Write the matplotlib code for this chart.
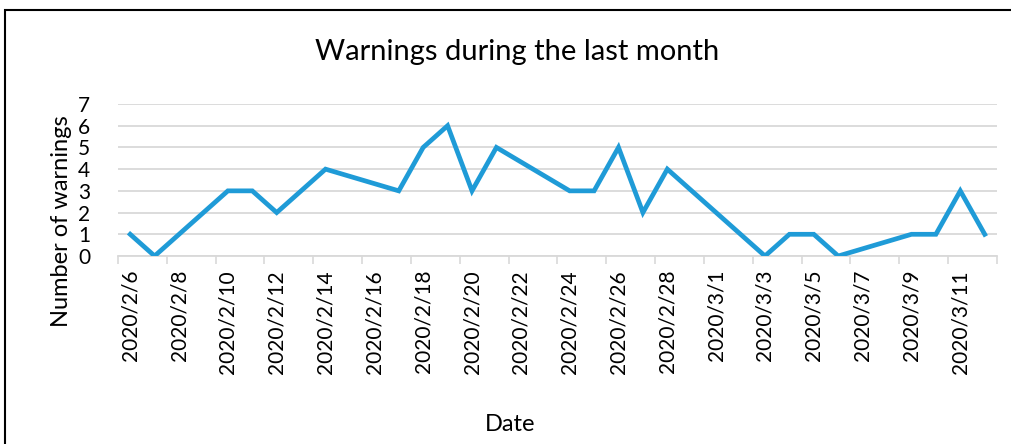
import matplotlib
matplotlib.use("Agg")
import matplotlib.dates as mdates
import matplotlib.pyplot as plt
from matplotlib.patches import Rectangle
import pandas as pd

DATES = [
    "2020-02-06", "2020-02-07", "2020-02-10", "2020-02-11", "2020-02-12",
    "2020-02-14", "2020-02-17", "2020-02-18", "2020-02-19", "2020-02-20",
    "2020-02-21", "2020-02-24", "2020-02-25", "2020-02-26", "2020-02-27",
    "2020-02-28", "2020-03-03", "2020-03-04", "2020-03-05", "2020-03-06",
    "2020-03-09", "2020-03-10", "2020-03-11", "2020-03-12",
]
WARNINGS = [1, 0, 3, 3, 2, 4, 3, 5, 6, 3, 5, 3, 3, 5, 2, 4, 0, 1, 1, 0, 1, 1, 3, 1]

TITLE = "Warnings during the last month"
X_LABEL = "Date"
Y_LABEL = "Number of warnings"
Y_TICKS = [0, 1, 2, 3, 4, 5, 6, 7]

COLORS = {
    "line": "#1F9BD7",
    "grid": "#D9D9D9",
    "text": "#000000",
    "border": "#000000",
}

plt.rcParams["font.family"] = ["Lato", "DejaVu Sans"]

fig = plt.figure(figsize=(10.12, 4.44), dpi=100)
ax = fig.add_axes([0.1166, 0.4234, 0.8685, 0.3424])

dates = pd.to_datetime(DATES) + pd.Timedelta(hours=12)
ax.plot(dates, WARNINGS, color=COLORS["line"], linewidth=3.4,
        solid_joinstyle="miter", zorder=3)

start = pd.Timestamp("2020-02-06")
end = pd.Timestamp("2020-03-13")
ax.set_xlim(start, end)
ax.set_ylim(0, 7)
ax.set_yticks(Y_TICKS)

# tick marks at day boundaries, labels at day centres
major = pd.date_range(start, end, freq="2D")
minor = pd.date_range(start, end - pd.Timedelta(days=1), freq="2D") + pd.Timedelta(hours=12)
ax.set_xticks(major)
ax.set_xticklabels([])
ax.set_xticks(minor, minor=True)
ax.set_xticklabels([f"{d.year}/{d.month}/{d.day}" for d in minor], minor=True,
                   rotation=90, fontsize=15)
ax.tick_params(axis="x", which="major", length=6, color=COLORS["grid"], width=1.2)
ax.tick_params(axis="x", which="minor", length=0, pad=10)
ax.tick_params(axis="y", length=0, labelsize=15, pad=20)

ax.grid(axis="y", color=COLORS["grid"], linewidth=1.3)
ax.set_axisbelow(True)
for side in ["top", "right", "left"]:
    ax.spines[side].set_visible(False)
ax.spines["bottom"].set_color(COLORS["grid"])
ax.spines["bottom"].set_linewidth(1.3)

fig.text(0.511, 0.884, TITLE, ha="center", va="center", fontsize=21, color=COLORS["text"])
fig.text(0.504, 0.043, X_LABEL, ha="center", va="center", fontsize=17, color=COLORS["text"])
fig.text(0.061, 0.502, Y_LABEL, ha="center", va="center", rotation=90,
         fontsize=17, color=COLORS["text"])

fig.patches.append(Rectangle((0.005, -0.1), 1.2, 1.077, transform=fig.transFigure,
                             fill=False, edgecolor=COLORS["border"], linewidth=1.5))

fig.savefig("out.png", dpi=100, facecolor="white")
